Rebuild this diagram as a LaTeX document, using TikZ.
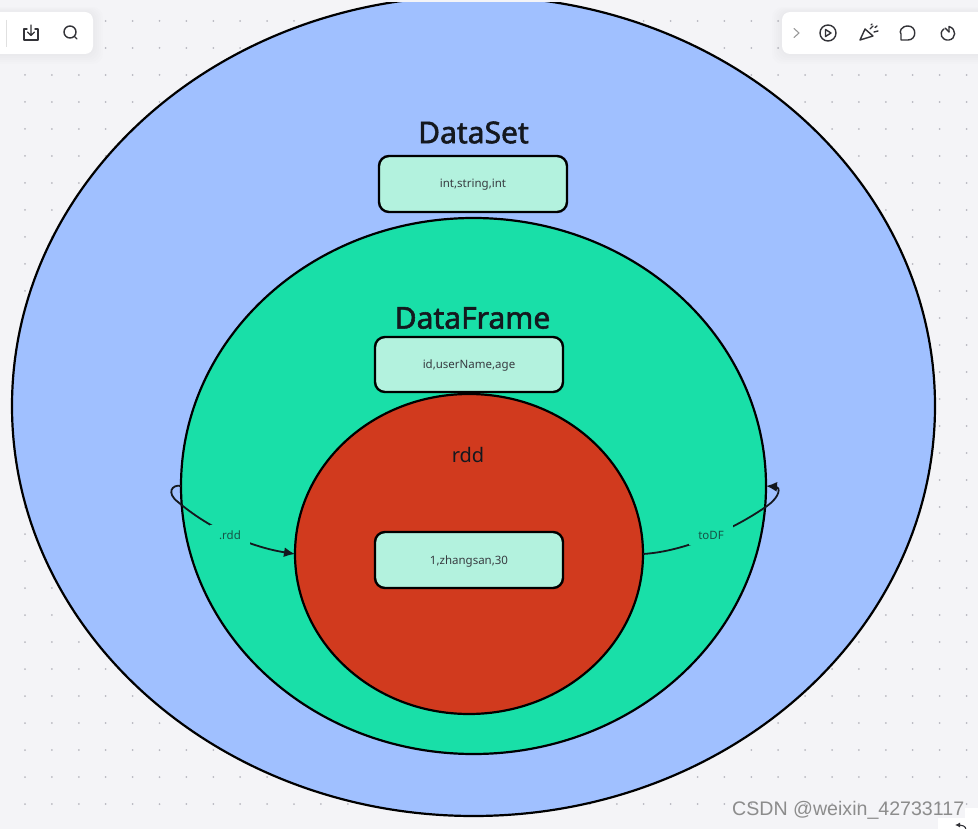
\documentclass[tikz,border=0pt]{standalone}
\usepackage{fontspec}
\setmainfont{Noto Sans}
\newfontfamily\titlefont[FakeBold=1.8]{Noto Sans}
\newfontfamily\markfont{Liberation Sans}
\usetikzlibrary{shapes.geometric,arrows.meta}
\definecolor{canvas}{HTML}{F4F4F7}
\definecolor{griddot}{HTML}{B8B8C0}
\definecolor{dsblue}{HTML}{A0C0FF}
\definecolor{dfgreen}{HTML}{19DFA8}
\definecolor{rddred}{HTML}{D13A1E}
\definecolor{boxmint}{HTML}{B3F2DE}
\definecolor{inkdark}{HTML}{14181E}
\definecolor{icongrey}{HTML}{333338}
\tikzset{
  setellipse/.style={ellipse,draw=black,line width=2.2pt,inner sep=0pt,outer sep=0pt},
  fieldbox/.style={draw=black,line width=2.4pt,fill=boxmint,rounded corners=10pt,minimum width=188pt,minimum height=56pt,inner sep=0pt,outer sep=0pt,text=inkdark!85,font=\fontsize{11.5}{14}\selectfont,text depth=0pt,text height=8pt},
  bigtitle/.style={text=inkdark,font=\titlefont\fontsize{30}{36}\selectfont,inner sep=0pt},
  conn/.style={draw=inkdark,line width=1.8pt,-{Latex[length=11pt,width=10pt]}},
  connlabel/.style={fill=dfgreen,inner xsep=9pt,inner ysep=6pt,text=inkdark!70!dfgreen,font=\fontsize{11.5}{14}\selectfont},
  toolicon/.style={draw=icongrey,line width=1.4pt,line cap=round,line join=round},
  panel/.style={fill=white,rounded corners=8pt}
}
\begin{document}
\begin{tikzpicture}[x=1pt,y=-1pt]
\useasboundingbox (0,0) rectangle (978,829);
\fill[canvas] (0,0) rectangle (978,829);
\foreach \i in {0,...,35}{\foreach \j in {0,...,30}{
  \fill[griddot] ({25+26.9*\i},{21+27*\j}) circle (1pt);}}
% toolbars with soft shadow
\foreach \g in {10,8,6,4,2}{
  \fill[black,opacity=0.006,rounded corners=10pt] (-20,{12-\g/2}) rectangle ({93+\g},{54+\g});
  \fill[black,opacity=0.006,rounded corners=10pt] ({782-\g},{12-\g/2}) rectangle (1000,{54+\g});
}
\begin{scope}
\clip (0,2.5) rectangle (978,829);
\node[setellipse,fill=dsblue,minimum width=923pt,minimum height=820pt] (ds) at (473.5,406) {};
\end{scope}
\node[setellipse,fill=dfgreen,minimum width=585pt,minimum height=536pt] (df) at (473.5,486) {};
\node[setellipse,fill=rddred,minimum width=348pt,minimum height=320pt] (rdd) at (469,554) {};
\node[bigtitle] (dstitle) at (473.5,132.5) {DataSet};
\node[fieldbox] (dsbox) at (473,184) {int,string,int};
\node[bigtitle] (dftitle) at (472.5,318) {DataFrame};
\node[fieldbox,minimum height=55pt] (dfbox) at (469,364.5) {id,userName,age};
\node[text=inkdark,inner sep=0pt,font=\fontsize{20}{24}\selectfont] (rddtitle) at (468,454.5) {rdd};
\node[fieldbox] (rddbox) at (469,560) {1,zhangsan,30};
% connectors
\draw[conn] (df.west) .. controls (172,484) and (166,493) .. (178,502)
   .. controls (205,525) and (245,546) .. (rdd.west);
\node[connlabel] (rddlabel) at (230,535) {.rdd};
\draw[conn] (rdd.east) .. controls (690,551) and (740,525) .. (767,506)
   .. controls (781,496) and (780,487) .. (df.east);
\node[connlabel] (todflabel) at (711,535) {toDF};
% left toolbar
\fill[panel] (-20,12) rectangle (93,54);
\draw[black!12,line width=0.8pt] (6,20) -- (6,47);
\draw[toolicon] (27,29) -- (24,29) -- (24,40) -- (38,40) -- (38,29) -- (35,29);
\draw[toolicon] (31,25) -- (31,35) (27.5,32) -- (31,35.5) -- (34.5,32);
\draw[toolicon] (70,32) circle (6pt) (74.5,36.5) -- (77,39);
% right toolbar
\fill[panel] (782,12) rectangle (1000,54);
\draw[black!40,line width=1.1pt,line cap=round,line join=round] (794,28.5) -- (799,33) -- (794,37.5);
\draw[toolicon] (828,33) circle (8pt);
\draw[toolicon] (825.5,29.5) -- (825.5,36.5) -- (831,33) -- cycle;
\draw[toolicon] (860,40) -- (865,29) -- (873,36) -- cycle;
\draw[toolicon] (870,29) -- (873,26) (874,32) -- (878,31) (871,25) -- (872,24) (875,27.5) -- (877,26);
\draw[toolicon] (901,40) -- (908,40) .. controls (917,40) and (917,26) .. (908,26) .. controls (901,26) and (899,32) .. (901,34) -- cycle;
\draw[toolicon] (944,29) .. controls (938,33) and (942,41) .. (949,40) .. controls (956,39) and (957,29) .. (949,26.5) -- (949,32);
\draw[toolicon] (949,32) -- (945,28);
% corner
\fill[white] (938,818) rectangle (978,829);
\fill[white] (965,808) rectangle (978,829);
\draw[icongrey,line width=1.1pt,-{Latex[length=5pt,width=5pt]}] (966,830) .. controls (966,826) and (962,825) .. (955,825);
\node[text=black!45,inner sep=0pt,anchor=west,font=\markfont\fontsize{19.6}{22}\selectfont] (mark) at (732,810) {CSDN @weixin\_42733117};
\end{tikzpicture}
\end{document}
